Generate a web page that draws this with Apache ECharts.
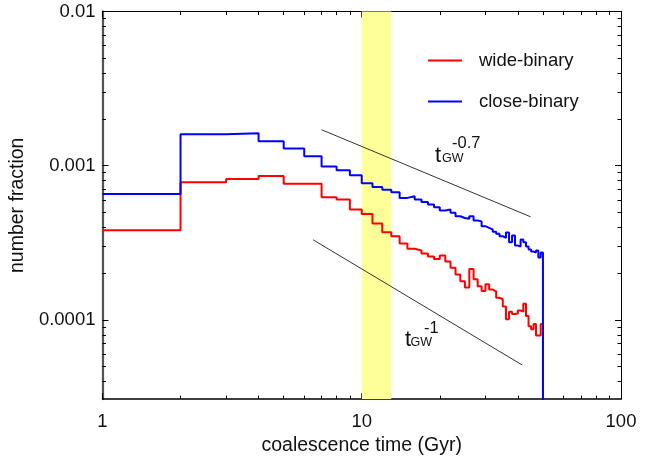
<!DOCTYPE html>
<html>
<head>
<meta charset="utf-8">
<title>number fraction vs coalescence time</title>
<script src="https://cdn.jsdelivr.net/npm/echarts@6/dist/echarts.min.js"></script>
<style>
html, body { margin: 0; padding: 0; background: #fff; }
#chart { width: 659px; height: 461px; }
</style>
</head>
<body>
<div id="chart"></div>
<script>
// histogram bins (Gyr): left edges, the last bin ends at binEnd
var binEdges = [1, 2, 3, 4, 5, 6, 7, 8, 9, 10, 11, 12, 13, 14, 15, 16, 17, 18, 19, 20,
    21, 22, 23, 24, 25, 26, 27, 28, 29, 30, 31, 32, 33, 34, 35, 36, 37, 38, 39, 40,
    41, 42, 43, 44, 45, 46, 47, 48, 49];
var binEnd = 50;
var wideBinary = [3.81e-4, 7.80e-4, 8.20e-4, 8.58e-4, 7.64e-4, 7.64e-4, 6.25e-4, 6.03e-4, 5.19e-4, 4.86e-4,
    4.22e-4, 3.70e-4, 3.48e-4, 3.13e-4, 2.89e-4, 2.82e-4, 2.69e-4, 2.57e-4, 2.48e-4, 2.61e-4,
    2.39e-4, 2.18e-4, 1.97e-4, 1.78e-4, 1.62e-4, 2.14e-4, 1.83e-4, 1.65e-4, 1.54e-4, 1.70e-4,
    1.57e-4, 1.53e-4, 1.39e-4, 1.36e-4, 1.22e-4, 1.01e-4, 1.13e-4, 1.09e-4, 1.10e-4, 1.15e-4,
    1.13e-4, 1.27e-4, 1.06e-4, 9.1e-5, 8.7e-5, 9.4e-5, 7.9e-5, 7.9e-5, 9.4e-5];
var closeBinary = [6.56e-4, 1.60e-3, 1.62e-3, 1.44e-3, 1.29e-3, 1.15e-3, 9.89e-4, 9.35e-4, 8.65e-4, 7.70e-4,
    7.26e-4, 6.97e-4, 6.71e-4, 6.18e-4, 6.33e-4, 6.03e-4, 5.82e-4, 5.59e-4, 5.37e-4, 5.12e-4,
    5.19e-4, 4.94e-4, 4.70e-4, 4.58e-4, 4.52e-4, 4.70e-4, 4.41e-4, 4.35e-4, 4.05e-4, 3.95e-4,
    3.86e-4, 3.72e-4, 3.61e-4, 3.49e-4, 3.40e-4, 3.68e-4, 3.18e-4, 3.52e-4, 3.03e-4, 2.99e-4,
    3.32e-4, 3.18e-4, 2.99e-4, 2.86e-4, 2.77e-4, 2.73e-4, 2.82e-4, 2.54e-4, 2.73e-4];
// reference power laws t^-0.7 and t^-1
var slope07Line = [[7.0, 1.71e-3], [44.8, 4.66e-4]];
var slope1Line = [[6.5, 3.30e-4], [41.6, 5.09e-5]];
var bandRange = [10, 13];

// axes (log)
var xRange = [1, 100];
var yRange = [3.06e-5, 0.01];
var xMajor = [1, 10, 100];
var xMinor = [2, 3, 4, 5, 6, 7, 8, 9, 20, 30, 40, 50, 60, 70, 80, 90];
var yMajor = [0.0001, 0.001, 0.01];
var yMinor = [4e-5, 5e-5, 6e-5, 7e-5, 8e-5, 9e-5, 2e-4, 3e-4, 4e-4, 5e-4, 6e-4, 7e-4, 8e-4, 9e-4,
    2e-3, 3e-3, 4e-3, 5e-3, 6e-3, 7e-3, 8e-3, 9e-3];

var FONT = 'Liberation Sans, Arial, Helvetica, sans-serif';
var lg = Math.log10;

function histData(vals) {
    var d = [];
    for (var i = 0; i < binEdges.length; i++) {
        d.push([lg(binEdges[i]), lg(vals[i])]);
    }
    d.push([lg(binEnd), lg(yRange[0]) - 2]); // drops off the bottom
    return d;
}

function logPts(pts) {
    return pts.map(function (p) { return [lg(p[0]), lg(p[1])]; });
}

function xAx(pos, ticks, len, lineOn, labelOn) {
    return {
        type: 'value', position: pos,
        min: lg(xRange[0]), max: lg(xRange[1]),
        splitLine: { show: false },
        axisLine: { show: lineOn, onZero: false, lineStyle: { color: '#000', width: pos === 'bottom' ? 1.5 : 1 } },
        axisTick: { show: true, inside: true, length: len, customValues: ticks.map(lg), lineStyle: { color: '#000', width: 1 } },
        axisLabel: {
            show: labelOn, customValues: xMajor.map(lg), margin: 13,
            fontSize: 18.5, fontFamily: FONT, color: '#111',
            formatter: function (v) { return String(Math.round(Math.pow(10, v))); }
        }
    };
}

function yAx(pos, ticks, len, lineOn, labelOn) {
    return {
        type: 'value', position: pos,
        min: lg(yRange[0]), max: lg(yRange[1]),
        splitLine: { show: false },
        axisLine: { show: lineOn, onZero: false, lineStyle: { color: pos === 'left' ? '#555' : '#000', width: pos === 'left' ? 2.2 : 1 } },
        axisTick: { show: true, inside: true, length: len, customValues: ticks.map(lg), lineStyle: { color: '#000', width: 1 } },
        axisLabel: {
            show: labelOn, customValues: yMajor.map(lg), margin: 7,
            fontSize: 18.5, fontFamily: FONT, color: '#111',
            formatter: function (v) { return Math.pow(10, v).toFixed(Math.round(-v)); }
        }
    };
}

var chart = echarts.init(document.getElementById('chart'));

var xBottom = xAx('bottom', xMajor, 6, true, true);
xBottom.name = 'coalescence time (Gyr)';
xBottom.nameLocation = 'middle';
xBottom.nameGap = 28;
xBottom.nameTextStyle = { fontSize: 19.5, fontFamily: FONT, color: '#111' };

var yLeft = yAx('left', yMajor, 6, true, true);
yLeft.name = 'number fraction';
yLeft.nameLocation = 'middle';
yLeft.nameGap = 63;
yLeft.nameTextStyle = { fontSize: 19.5, fontFamily: FONT, color: '#111' };

var lineFont = function (size) { return size + 'px ' + FONT; };

var option = {
    animation: false,
    backgroundColor: '#fff',
    grid: { left: 99, right: 38, top: 11.5, bottom: 61, containLabel: false },
    legend: {
        data: ['wide-binary', 'close-binary'],
        orient: 'vertical',
        left: 423, top: 46,
        icon: 'rect',
        itemWidth: 34, itemHeight: 2, itemGap: 22,
        selectedMode: false,
        textStyle: { fontSize: 18.5, fontFamily: FONT, color: '#111', padding: [0, 0, 0, 12] }
    },
    xAxis: [
        xBottom,
        xAx('bottom', xMinor, 3.5, false, false),
        xAx('top', xMajor, 6, true, false),
        xAx('top', xMinor, 3.5, false, false)
    ],
    yAxis: [
        yLeft,
        yAx('left', yMinor, 3.5, false, false),
        yAx('right', yMajor, 6, true, false),
        yAx('right', yMinor, 3.5, false, false)
    ],
    series: [
        {
            name: 'band', type: 'line', data: [], z: 1, silent: true,
            markArea: {
                silent: true,
                itemStyle: { color: '#ffff99' },
                data: [[{ xAxis: lg(bandRange[0]) }, { xAxis: lg(bandRange[1]) }]]
            }
        },
        {
            name: 'slope07', type: 'line', data: logPts(slope07Line), symbol: 'none', silent: true,
            lineStyle: { color: '#333', width: 1 }, z: 3
        },
        {
            name: 'slope1', type: 'line', data: logPts(slope1Line), symbol: 'none', silent: true,
            lineStyle: { color: '#333', width: 1 }, z: 3
        },
        {
            name: 'wide-binary', type: 'line', step: 'end', data: histData(wideBinary),
            symbol: 'none', clip: true, color: '#ff0000',
            lineStyle: { color: '#ff0000', width: 2 }, z: 4
        },
        {
            name: 'close-binary', type: 'line', step: 'end', data: histData(closeBinary),
            symbol: 'none', clip: true, color: '#0000ff',
            lineStyle: { color: '#0000ff', width: 2 }, z: 5
        }
    ],
    graphic: [
        { type: 'text', x: 435, y: 155.5, style: { text: 't', font: lineFont(22), fill: '#111', verticalAlign: 'middle' } },
        { type: 'text', x: 442, y: 158.8, style: { text: 'GW', font: lineFont(12.5), fill: '#111', verticalAlign: 'middle' } },
        { type: 'text', x: 452, y: 143.5, style: { text: '-0.7', font: lineFont(16.5), fill: '#111', verticalAlign: 'middle' } },
        { type: 'text', x: 405, y: 339.6, style: { text: 't', font: lineFont(22), fill: '#111', verticalAlign: 'middle' } },
        { type: 'text', x: 410.5, y: 342.8, style: { text: 'GW', font: lineFont(12.5), fill: '#111', verticalAlign: 'middle' } },
        { type: 'text', x: 424, y: 328.5, style: { text: '-1', font: lineFont(16.5), fill: '#111', verticalAlign: 'middle' } }
    ]
};

chart.setOption(option);
</script>
</body>
</html>
